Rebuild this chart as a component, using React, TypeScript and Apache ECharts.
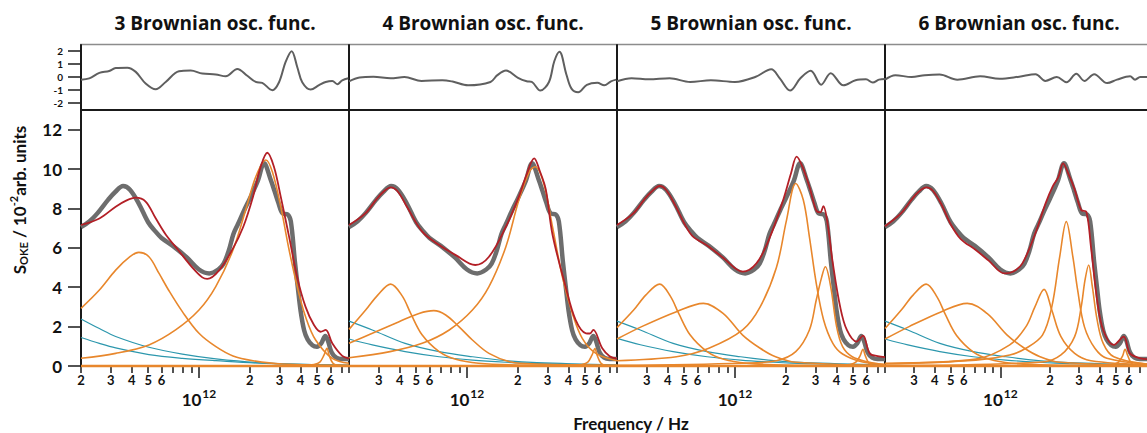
import React, { useEffect, useRef } from "react";
import * as echarts from "echarts";

// ---------- data (frequency in units of 1e11 Hz) ----------
const FREQ_UNIT = 1e11;
const X_MIN = 2e11;
const X_MAX = 7.74e12;

const panelTitles = [
  "3 Brownian osc. func.",
  "4 Brownian osc. func.",
  "5 Brownian osc. func.",
  "6 Brownian osc. func.",
];

// experimental spectrum (same in every panel)
const dataF = [2, 2.25, 2.5, 2.9, 3.2, 3.55, 3.9, 4.4, 5, 5.5, 6, 7, 8.5, 10, 11.5, 13, 14, 15, 16, 17, 18.5, 20, 22.3, 24.3, 26.5, 28, 29.5, 31.3, 33.5, 35, 37, 38.5, 40, 42, 44, 47, 50, 53, 56, 58, 61, 65, 70, 77.4];
const dataV = [7.05, 7.35, 7.75, 8.45, 8.85, 9.14, 8.95, 8.25, 7.3, 6.85, 6.5, 6.1, 5.5, 4.9, 4.7, 4.9, 5.2, 5.85, 6.7, 7.2, 7.9, 8.5, 9.4, 10.3, 9.5, 8.9, 8.3, 7.75, 7.7, 7.35, 5.3, 4.0, 2.8, 1.8, 1.35, 1.05, 0.98, 1.15, 1.52, 1.3, 0.7, 0.42, 0.35, 0.35];

// ---- panel 1: 3 Brownian oscillators ----
const fit1 = [[2, 7.16], [2.57, 7.49], [3.21, 8.09], [3.7, 8.4], [4.22, 8.55], [4.83, 8.35], [5.54, 7.5], [6.35, 6.68], [7.61, 5.84], [9.14, 5.0], [10.46, 4.5], [11.2, 4.42], [13.2, 4.87], [15.9, 5.97], [18.3, 7.07], [20.9, 8.6], [23.2, 10.12], [25.4, 10.83], [27.8, 10.12], [30.5, 8.6], [34.2, 6.56], [38.2, 4.5], [42.8, 3.0], [48, 2.08], [52.6, 1.74], [56.3, 1.83], [61.6, 1.15], [70.6, 0.51], [77.4, 0.38]];
const p1o1 = [[2, 2.93], [2.57, 3.86], [3.21, 4.87], [3.9, 5.55], [4.4, 5.77], [5.05, 5.55], [5.8, 4.7], [6.6, 3.86], [7.97, 2.76], [10, 1.66], [12.6, 0.98], [15.9, 0.51], [20.9, 0.27], [31.2, 0.1], [77.4, 0.03]];
const p1o2 = [[2, 0.39], [3.21, 0.64], [5.05, 1.07], [7.27, 1.83], [10, 2.84], [12.57, 4.03], [15.9, 5.89], [18.9, 7.92], [21.7, 9.61], [24.9, 10.46], [27.2, 9.86], [30.5, 8.09], [34.2, 5.89], [38.2, 4.03], [42.8, 2.5], [49.1, 1.32], [61.6, 0.39], [77.4, 0.14]];
const p1o3 = [[2, 0], [40, 0.02], [48, 0.08], [52, 0.2], [55, 0.55], [57.3, 0.9], [59, 0.55], [62, 0.15], [66, 0.04], [77.4, 0.01]];
const p1t1 = [[2, 2.39], [2.57, 1.9], [3.21, 1.5], [5.05, 0.95], [7.97, 0.6], [12.6, 0.36], [24.9, 0.15], [77.4, 0.03]];
const p1t2 = [[2, 1.45], [2.57, 1.15], [3.21, 0.92], [5.05, 0.58], [7.97, 0.39], [12.6, 0.27], [24.9, 0.13], [77.4, 0.04]];
const res1 = [[2, -0.2], [2.24, -0.1], [2.57, 0.32], [2.94, 0.47], [3.21, 0.7], [3.76, 0.72], [4.22, 0.4], [4.83, -0.5], [5.54, -0.95], [6.35, -0.38], [7.61, 0.45], [8.93, 0.5], [10.46, 0.27], [12.57, 0.2], [14.4, 0.06], [16.87, 0.63], [19.33, 0.1], [21.7, -0.38], [23.7, -0.45], [27.2, -1.02], [29.8, -0.4], [32.6, 1.17], [35.4, 2.0], [38.2, 0.78], [40.9, -0.4], [45.9, -0.97], [51.4, -0.63], [56.3, -0.38], [61.6, -0.3], [66, -0.55], [70.6, -0.25], [76.7, -0.1]];

// ---- panel 2: 4 Brownian oscillators ----
const fit2 = [[2, 7.16], [2.5, 7.75], [2.9, 8.45], [3.2, 8.85], [3.53, 9.07], [3.9, 8.85], [4.4, 8.1], [5.43, 6.82], [6.84, 6.14], [8.58, 5.63], [11.2, 5.13], [13.5, 5.55], [17, 7.07], [20.3, 8.6], [22.5, 9.7], [25, 10.54], [27, 9.9], [29.3, 8.97], [32.1, 6.68], [38.4, 4.03], [44, 2.34], [50.7, 1.66], [53.5, 1.65], [56, 1.83], [63.3, 0.9], [70, 0.5], [77.4, 0.38]];
const p2o1 = [[2, 1.86], [2.51, 2.84], [2.96, 3.6], [3.53, 4.16], [4.14, 3.55], [4.64, 2.67], [5.43, 1.57], [6.84, 0.73], [8.58, 0.34], [11.7, 0.14], [20, 0.05], [77.4, 0.02]];
const p2o2 = [[2, 1.15], [2.75, 1.66], [3.96, 2.25], [5.2, 2.67], [6.36, 2.81], [7.48, 2.59], [8.95, 2.0], [10.77, 1.32], [13.5, 0.64], [18.2, 0.2], [26, 0.1], [77.4, 0.03]];
const p2o3 = [[2, 0.42], [3.5, 0.73], [5.43, 1.15], [7.85, 1.83], [10.77, 2.84], [13.5, 4.03], [17, 6.06], [20.3, 8.43], [23.4, 9.86], [25.3, 10.12], [28.5, 9.27], [32.1, 7.07], [36.8, 4.5], [42.1, 2.67], [48.2, 1.4], [58, 0.64], [77.4, 0.27]];
const p2o4 = [[2, 0], [40, 0.02], [48, 0.08], [52, 0.2], [55, 0.55], [57.3, 0.88], [59, 0.55], [62, 0.15], [66, 0.04], [77.4, 0.01]];
const p2t1 = [[2, 2.28], [2.75, 1.83], [4.3, 1.15], [6.84, 0.73], [10.8, 0.47], [17, 0.27], [26, 0.17], [77.4, 0.05]];
const p2t2 = [[2, 1.37], [2.75, 1.07], [4.3, 0.73], [6.84, 0.47], [10.8, 0.3], [17, 0.19], [26, 0.12], [77.4, 0.04]];
const res2 = [[2, -0.33], [2.31, -0.03], [2.79, 0.02], [3.53, -0.1], [4.26, 0], [5.38, -0.3], [7.14, -0.24], [8.22, -0.35], [10.15, -0.64], [13.78, -0.38], [15.14, 0.15], [17.03, 0.5], [20.06, -0.06], [22.58, -0.33], [24.2, -0.38], [27.2, -1.05], [30.6, -0.38], [32.9, 1.22], [35.3, 1.95], [38.8, 0.2], [41.6, -0.9], [45.6, -1.18], [51.3, -0.6], [59.2, -0.45], [65, -0.64], [71.3, -0.33], [76.6, -0.2]];

// ---- panel 3: 5 Brownian oscillators ----
const fit3 = [[2, 7.16], [2.5, 7.75], [2.9, 8.45], [3.2, 8.85], [3.58, 9.14], [3.9, 8.95], [4.4, 8.2], [5, 7.25], [5.6, 6.6], [7, 6.06], [8.5, 5.5], [11.1, 4.79], [13.4, 5.21], [16, 6.48], [19.3, 8.43], [21.5, 9.8], [23.2, 10.63], [25.1, 10.12], [27.6, 9.1], [30.3, 7.9], [32, 7.8], [33.4, 8.12], [35.1, 7.41], [38, 5.21], [42, 3.0], [46, 1.83], [52.5, 1.24], [57.3, 1.54], [62.8, 0.64], [70, 0.5], [77.4, 0.45]];
const p3o1 = [[2, 1.95], [2.51, 2.84], [2.96, 3.6], [3.58, 4.16], [4.14, 3.55], [4.64, 2.67], [5.43, 1.57], [6.84, 0.73], [8.58, 0.34], [11.7, 0.14], [20, 0.05], [77.4, 0.02]];
const p3o2 = [[2, 1.37], [2.8, 2.0], [4.5, 2.76], [6.5, 3.18], [8.5, 2.67], [11.1, 1.57], [14.1, 0.9], [17.4, 0.47], [22.9, 0.19], [77.4, 0.03]];
const p3o3 = [[2, 0.27], [4.5, 0.47], [7, 0.9], [11.1, 1.83], [14.1, 3.0], [17.6, 5.0], [20.2, 7.41], [22.9, 9.27], [25.4, 8.43], [27.6, 6.56], [30.3, 4.2], [33.5, 2.34], [38, 1.15], [43.4, 0.61], [57, 0.2], [77.4, 0.08]];
const p3o4 = [[2, 0.03], [11.1, 0.14], [17.6, 0.27], [22.9, 0.73], [27.6, 1.83], [30.3, 3.35], [32.6, 4.5], [34.3, 5.04], [36.9, 4.03], [40, 2.0], [43.4, 0.98], [49.5, 0.47], [62, 0.2], [77.4, 0.07]];
const p3o5 = [[2, 0], [40, 0.02], [48, 0.08], [52, 0.2], [55, 0.5], [57.3, 0.85], [59, 0.55], [62, 0.15], [66, 0.04], [77.4, 0.01]];
const p3t1 = [[2, 2.28], [2.75, 1.83], [4.3, 1.15], [6.84, 0.73], [10.8, 0.47], [17, 0.27], [26, 0.17], [77.4, 0.05]];
const p3t2 = [[2, 1.4], [2.75, 1.08], [4.3, 0.73], [6.84, 0.47], [10.8, 0.3], [17, 0.19], [26, 0.12], [77.4, 0.04]];
const res3 = [[2, -0.33], [2.44, -0.1], [3.09, -0.18], [4.1, -0.1], [5.43, -0.38], [7.2, -0.25], [10, -0.38], [13.27, 0.02], [16.39, 0.61], [18.43, -0.1], [21.2, -1.05], [24.4, -0.1], [28.1, 0.48], [32.4, -0.59], [36.9, 0.3], [43.9, -0.64], [51.8, -0.25], [59.7, -0.18], [65.5, -0.43], [71.3, -0.2], [77.4, -0.15]];

// ---- panel 4: 6 Brownian oscillators ----
const fit4 = [[2, 7.1], [2.5, 7.75], [2.9, 8.45], [3.2, 8.85], [3.57, 9.07], [3.9, 8.9], [4.4, 8.2], [5, 7.2], [5.74, 6.46], [7.1, 5.89], [8.5, 5.35], [10.6, 4.7], [12, 4.8], [13.6, 5.21], [16.2, 6.68], [18.8, 8.26], [20.7, 9.1], [22.5, 9.6], [24, 10.29], [26, 9.7], [28.2, 8.97], [30.9, 7.92], [33.2, 7.83], [35.4, 6.06], [38.6, 3.35], [42, 1.83], [48.7, 1.07], [55.9, 1.49], [61, 0.64], [70.6, 0.39], [77.4, 0.35]];
const p4o1 = [[2, 1.9], [2.51, 2.84], [2.96, 3.6], [3.55, 4.16], [4.14, 3.5], [4.64, 2.62], [5.43, 1.55], [6.84, 0.72], [8.58, 0.34], [11.7, 0.14], [20, 0.05], [77.4, 0.02]];
const p4o2 = [[2, 1.37], [2.8, 2.0], [4.4, 2.76], [6.3, 3.18], [8.3, 2.67], [11, 1.57], [14, 0.9], [17.4, 0.47], [22.9, 0.19], [77.4, 0.03]];
const p4o3 = [[2, 0.14], [7.1, 0.35], [11.4, 1.07], [14.3, 2.0], [16.2, 3.0], [18.4, 3.89], [20.5, 2.84], [23.3, 1.49], [28.2, 0.64], [35.4, 0.27], [77.4, 0.08]];
const p4o4 = [[2, 0.1], [7.1, 0.3], [11.4, 0.56], [14.3, 0.9], [18, 1.57], [20.5, 3.0], [22.9, 5.55], [25.1, 7.33], [27.5, 5.55], [29.4, 3.86], [32.3, 2.0], [37.4, 0.9], [44.2, 0.39], [77.4, 0.1]];
const p4o5 = [[2, 0.02], [18, 0.2], [23.3, 0.56], [28.2, 1.49], [30.9, 3.0], [32.6, 4.37], [34.3, 5.13], [36.1, 4.03], [38.6, 2.34], [42, 1.15], [48.7, 0.47], [77.4, 0.1]];
const p4o6 = [[2, 0], [40, 0.02], [48, 0.08], [52, 0.2], [55, 0.5], [57, 0.85], [59, 0.55], [62, 0.15], [66, 0.04], [77.4, 0.01]];
const p4t1 = [[2, 2.28], [2.75, 1.83], [4.3, 1.15], [6.84, 0.73], [10.8, 0.47], [17, 0.27], [26, 0.17], [77.4, 0.05]];
const p4t2 = [[2, 1.37], [2.75, 1.07], [4.3, 0.73], [6.84, 0.47], [10.8, 0.3], [17, 0.19], [26, 0.12], [77.4, 0.04]];
const res4 = [[2, -0.2], [2.31, 0.14], [2.9, 0], [3.48, 0.14], [4.28, 0.2], [5.49, -0.2], [7.54, 0.06], [9.91, -0.14], [13.02, 0.03], [16.35, 0.22], [18.74, -0.3], [21.97, 0], [25.18, -0.4], [28.86, 0.26], [32.33, -0.3], [37.06, 0.22], [44.4, -0.47], [50.9, -0.2], [61.1, 0.06], [65.5, -0.2], [70.4, 0], [77.4, 0]];

// zero baseline drawn in orange along the axis
const zeroLine = [[2, 0], [77.4, 0]];

// tick positions (in units of 1e11 Hz)
const xTickF = [2, 3, 4, 5, 6, 7, 8, 9, 20, 30, 40, 50, 60, 70];
const xLabelF = [3, 4, 5, 6, 20, 30, 40, 50, 60];
const mainYTicks = [0, 2, 4, 6, 8, 10, 12];
const resYTicks = [-2, -1, 0, 1, 2];

const panels = [
  { fit: fit1, orange: [p1o1, p1o2, p1o3], teal: [p1t1, p1t2], res: res1 },
  { fit: fit2, orange: [p2o1, p2o2, p2o3, p2o4], teal: [p2t1, p2t2], res: res2 },
  { fit: fit3, orange: [p3o1, p3o2, p3o3, p3o4, p3o5], teal: [p3t1, p3t2], res: res3 },
  { fit: fit4, orange: [p4o1, p4o2, p4o3, p4o4, p4o5, p4o6], teal: [p4t1, p4t2], res: res4 },
];

// ---------- layout / style ----------
const FONT = "Lato";
const TITLE_FONT = "Open Sans";
const PANEL_LEFT = [81, 349, 617, 885];
const PANEL_W = 268;
const RES_TOP = 45;
const RES_H = 65;
const MAIN_TOP = 110;
const MAIN_H = 256;

const C_DATA = "#6d6d6d";
const C_FIT = "#b31f26";
const C_ORANGE = "#e8872c";
const C_TEAL = "#2c97ad";
const C_AXIS = "#1a1a1a";

const toXY = (pts: number[][]) => pts.map(([f, v]) => [f * FREQ_UNIT, v]);
const mantissa = (v: number) => {
  const e = Math.floor(Math.log10(v) + 1e-9);
  return String(Math.round(v / Math.pow(10, e)));
};

function buildOption() {
  const grid: any[] = [];
  const xAxis: any[] = [];
  const yAxis: any[] = [];
  const series: any[] = [];
  const axisLine = { show: true, onZero: false, lineStyle: { color: C_AXIS, width: 2 } };

  panels.forEach((p, i) => {
    const left = PANEL_LEFT[i];
    const gRes = grid.length;
    grid.push({ left, top: RES_TOP, width: PANEL_W, height: RES_H });
    const gMain = grid.length;
    grid.push({ left, top: MAIN_TOP, width: PANEL_W, height: MAIN_H });

    const xRes = xAxis.length;
    xAxis.push({
      type: "log", logBase: 10, gridIndex: gRes, min: X_MIN, max: X_MAX, position: "bottom",
      axisLine, axisTick: { show: false }, axisLabel: { show: false },
      splitLine: { show: false }, minorTick: { show: false },
    });
    const xMain = xAxis.length;
    const labels = (i === 0 ? [2, ...xLabelF] : xLabelF).map((f) => f * FREQ_UNIT);
    xAxis.push({
      type: "log", logBase: 10, gridIndex: gMain, min: X_MIN, max: X_MAX, position: "bottom",
      axisLine,
      axisTick: { show: true, customValues: xTickF.map((f) => f * FREQ_UNIT), length: 7, lineStyle: { color: C_AXIS, width: 1.5 } },
      axisLabel: {
        show: true, customValues: labels, formatter: (v: number) => mantissa(v), margin: 7,
        fontFamily: FONT, fontWeight: "bold", fontSize: 13, color: "#111",
      },
      splitLine: { show: false }, minorTick: { show: false },
    });
    xAxis.push({
      type: "log", logBase: 10, gridIndex: gMain, min: X_MIN, max: X_MAX, position: "bottom",
      axisLine: { show: false, onZero: false },
      axisTick: { show: true, customValues: [1e12], length: 12, lineStyle: { color: C_AXIS, width: 1.5 } },
      axisLabel: {
        show: true, customValues: [1e12], formatter: () => "{b|10}{s|12}", margin: 21,
        rich: {
          b: { fontFamily: FONT, fontWeight: "bold", fontSize: 17, color: "#111", lineHeight: 24 },
          s: { fontFamily: FONT, fontWeight: "bold", fontSize: 12, color: "#111", lineHeight: 12, verticalAlign: "top", padding: [0, 0, 0, 1] },
        },
      },
      splitLine: { show: false }, minorTick: { show: false },
    });

    const yRes = yAxis.length;
    yAxis.push({
      type: "value", gridIndex: gRes, min: -2.55, max: 2.48, axisLine,
      axisTick: i === 0 ? { show: true, customValues: resYTicks, length: 13, lineStyle: { color: C_AXIS, width: 1.5 } } : { show: false },
      axisLabel: i === 0 ? { show: true, customValues: resYTicks, margin: 18, fontFamily: FONT, fontWeight: "bold", fontSize: 10, color: "#111" } : { show: false },
      splitLine: { show: false },
    });
    const yMain = yAxis.length;
    yAxis.push({
      type: "value", gridIndex: gMain, min: 0, max: 13, axisLine,
      axisTick: i === 0 ? { show: true, customValues: mainYTicks, length: 13, lineStyle: { color: C_AXIS, width: 1.5 } } : { show: false },
      axisLabel: i === 0 ? { show: true, customValues: mainYTicks, margin: 19, fontFamily: FONT, fontWeight: "bold", fontSize: 17, color: "#111" } : { show: false },
      splitLine: { show: false },
    });

    const line = (data: number[][], color: string, width: number, xi: number, yi: number, z: number) => ({
      type: "line", xAxisIndex: xi, yAxisIndex: yi, data, showSymbol: false, symbol: "none",
      smooth: 0.35, lineStyle: { color, width }, z, silent: true,
    });

    series.push(line(toXY(p.res), "#5f5f5f", 2, xRes, yRes, 3));
    series.push(line(dataF.map((f, k) => [f * FREQ_UNIT, dataV[k]]), C_DATA, 4.5, xMain, yMain, 2));
    p.teal.forEach((t) => series.push(line(toXY(t), C_TEAL, 1.2, xMain, yMain, 3)));
    p.orange.forEach((o) => series.push(line(toXY(o), C_ORANGE, 1.6, xMain, yMain, 4)));
    series.push({ ...line(toXY(zeroLine), C_ORANGE, 2.5, xMain, yMain, 4), smooth: false, clip: false });
    series.push(line(toXY(p.fit), C_FIT, 1.8, xMain, yMain, 5));
  });

  const graphic: any[] = [];
  graphic.push({
    type: "line", shape: { x1: 80, y1: 44.5, x2: 1147, y2: 44.5 },
    style: { stroke: "#8c8c8c", lineWidth: 1.5 }, silent: true,
  });
  panelTitles.forEach((t, i) => {
    graphic.push({
      type: "text", x: PANEL_LEFT[i] + PANEL_W / 2, y: 23,
      style: {
        text: t, fill: "#111", font: `bold 19px "${TITLE_FONT}"`,
        align: "center", verticalAlign: "middle", textAlign: "center", textVerticalAlign: "middle",
      },
    });
  });
  graphic.push({
    type: "text", x: 631, y: 423,
    style: {
      text: "Frequency / Hz", fill: "#111", font: `bold 17px ${FONT}`,
      align: "center", verticalAlign: "middle", textAlign: "center", textVerticalAlign: "middle",
    },
  });
  graphic.push({
    type: "text", x: 19, y: 200, rotation: Math.PI / 2,
    style: {
      text: "{n|S}{sub|OKE}{n| / 10}{sup|-2}{n|arb. units}",
      rich: {
        n: { fontFamily: FONT, fontWeight: "bold", fontSize: 17, fill: "#111", color: "#111" },
        sub: { fontFamily: FONT, fontWeight: "bold", fontSize: 11, fill: "#111", color: "#111", padding: [9, 0, 0, 0] },
        sup: { fontFamily: FONT, fontWeight: "bold", fontSize: 11, fill: "#111", color: "#111", padding: [0, 0, 11, 0] },
      },
      align: "center", verticalAlign: "middle", textAlign: "center", textVerticalAlign: "middle",
    },
  });

  return { animation: false, backgroundColor: "#ffffff", grid, xAxis, yAxis, series, graphic };
}

export default function App() {
  const ref = useRef<HTMLDivElement>(null);
  useEffect(() => {
    if (!ref.current) return;
    const chart = echarts.init(ref.current, null, { renderer: "svg" });
    chart.setOption(buildOption() as any);
    return () => chart.dispose();
  }, []);
  return (
    <div
      ref={ref}
      style={{ position: "absolute", left: 0, top: 0, width: 1147, height: 433, background: "#fff" }}
    />
  );
}
